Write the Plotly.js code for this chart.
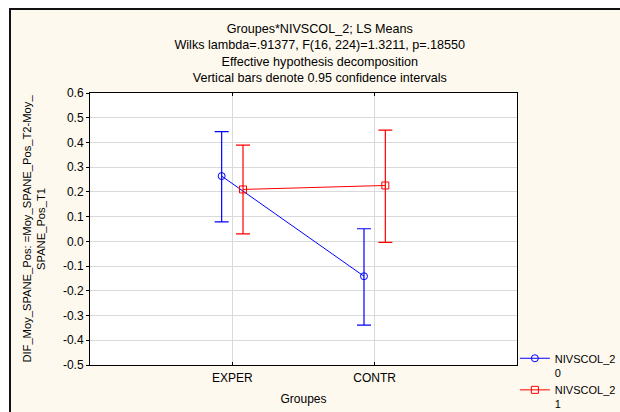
<!DOCTYPE html>
<html>
<head>
<meta charset="utf-8">
<script src="https://cdn.plot.ly/plotly-3.0.1.min.js"></script>
<style>
  html, body { margin: 0; padding: 0; background: #ffffff; width: 620px; height: 412px; overflow: hidden; }
  #frame {
    position: absolute; left: 9px; top: 8px;
    border-top: 2px solid #111; border-left: 2px solid #111;
    width: 609px; height: 402px; background: #fef9ee;
  }
  #chart { width: 609px; height: 402px; }
</style>
</head>
<body>
<div id="frame"><div id="chart"></div></div>
<script>
// Groups on the x axis
const groups = ['EXPER', 'CONTR'];

// LS means and 0.95 confidence limits, NIVSCOL_2 = 0
const mean0 = [0.264, -0.141];
const upper0 = [0.444, 0.051];
const lower0 = [0.079, -0.339];

// LS means and 0.95 confidence limits, NIVSCOL_2 = 1
const mean1 = [0.210, 0.226];
const upper1 = [0.389, 0.450];
const lower1 = [0.030, -0.004];

// y-axis tick values and labels
const yTickVals = [-0.5, -0.4, -0.3, -0.2, -0.1, 0.0, 0.1, 0.2, 0.3, 0.4, 0.5, 0.6];
const yTickText = ['-0.5', '-0.4', '-0.3', '-0.2', '-0.1', '0.0', '0.1', '0.2', '0.3', '0.4', '0.5', '0.6'];

const FONT = 'Liberation Sans, Arial, sans-serif';

function errUp(mean, up) { return mean.map((m, i) => up[i] - m); }
function errDown(mean, lo) { return mean.map((m, i) => m - lo[i]); }

function series(name, mean, up, lo, color, symbol) {
  return {
    type: 'scatter',
    mode: 'lines+markers',
    name: name,
    x: groups,
    y: mean,
    line: { color: color, width: 1 },
    marker: { symbol: symbol, size: 7, color: color, line: { color: color, width: 1 } },
    error_y: {
      type: 'data', symmetric: false,
      array: errUp(mean, up), arrayminus: errDown(mean, lo),
      color: color, thickness: 1.2, width: 7
    }
  };
}

const data = [
  series('NIVSCOL_2<br>0', mean0, upper0, lower0, '#0000ff', 'circle-open'),
  series('NIVSCOL_2<br>1', mean1, upper1, lower1, '#ff0000', 'square-open')
];

const layout = {
  width: 609, height: 402,
  margin: { l: 79, r: 103, t: 83, b: 47, pad: 0, autoexpand: false },
  paper_bgcolor: '#fef9ee',
  plot_bgcolor: '#ffffff',
  font: { family: FONT, size: 12, color: '#000' },
  scattermode: 'group',
  scattergap: 0.7,
  showlegend: true,
  title: {
    text: 'Groupes*NIVSCOL_2; LS Means<br>Wilks lambda=.91377, F(16, 224)=1.3211, p=.18550<br>Effective hypothesis decomposition<br>Vertical bars denote 0.95 confidence intervals',
    font: { family: FONT, size: 12.6, color: '#000' },
    xref: 'container', x: 0.507, xanchor: 'center',
    yref: 'container', y: 0.943, yanchor: 'top'
  },
  xaxis: {
    type: 'category',
    range: [-1, 2],
    showgrid: true, gridcolor: '#dadada', gridwidth: 1,
    showline: true, linecolor: '#000', linewidth: 1, mirror: 'ticks',
    ticks: 'inside', ticklen: 3, tickcolor: '#000',
    ticklabelstandoff: 2,
    tickfont: { family: FONT, size: 12 },
    zeroline: false,
    title: { text: 'Groupes', font: { family: FONT, size: 12 }, standoff: 10 }
  },
  yaxis: {
    range: [-0.5, 0.6],
    tickmode: 'array', tickvals: yTickVals, ticktext: yTickText,
    showgrid: true, gridcolor: '#dadada', gridwidth: 1,
    showline: true, linecolor: '#000', linewidth: 1, mirror: true,
    ticks: 'outside', ticklen: 3, tickcolor: '#000',
    tickfont: { family: FONT, size: 12 },
    zeroline: false,
    title: { text: 'DIF_Moy_SPANE_Pos: =Moy_SPANE_Pos_T2-Moy_<br>SPANE_Pos_T1', font: { family: FONT, size: 11.2 }, standoff: 14 }
  },
  legend: {
    x: 0.995, xanchor: 'left', xref: 'paper',
    y: 0.075, yanchor: 'top', yref: 'paper',
    valign: 'top',
    bgcolor: 'rgba(0,0,0,0)',
    font: { family: FONT, size: 11, color: '#000' },
    tracegroupgap: 0
  }
};

Plotly.newPlot('chart', data, layout, { displayModeBar: false, staticPlot: true });
</script>
</body>
</html>
